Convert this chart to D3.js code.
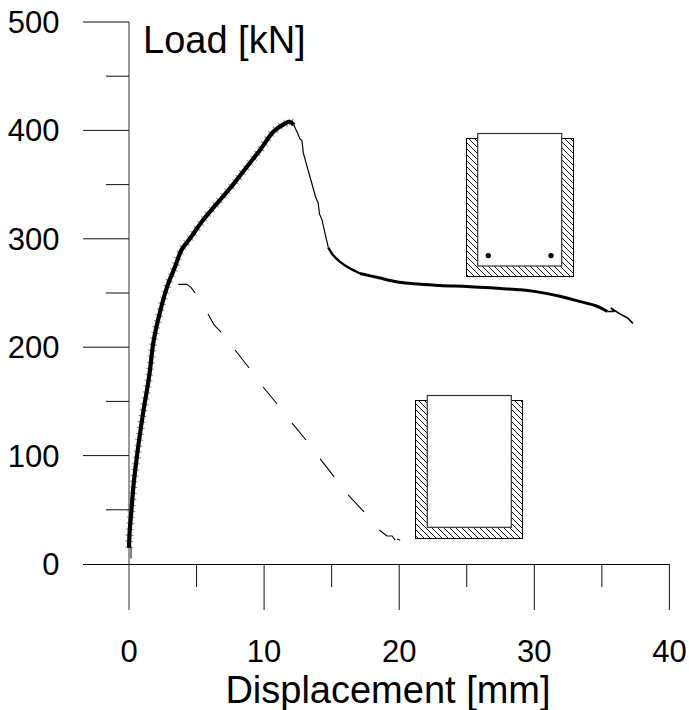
<!DOCTYPE html>
<html><head><meta charset="utf-8"><script src="https://cdn.jsdelivr.net/npm/d3@7"></script>
<style>html,body{margin:0;background:#fff}svg{display:block}text{font-family:"Liberation Sans",Arial,sans-serif;fill:#000}</style></head>
<body><svg id="c" width="689" height="710"></svg>
<script>
const xTicks=[0,10,20,30,40];
const xMinor=[5,15,25,35];
const yTicks=[0,100,200,300,400,500];
const yMinor=[50,150,250,350,450];
const riseDisp=[0,0.05,0.15,0.3,0.37,0.7,1.05,1.48,1.8,2.15,2.8,3.4,3.9,4.5,5.4,6.4,7.7,8.2,9.7,10.7,11.5,11.9,12.2];
const riseLoad=[15,30,45,68,77,110,140,172,204,225,255,274,290,300,316,331,350,358,382,399,406,408,405];
const dropDisp=[12.2,12.5,12.65,12.8,12.9,13.0,13.15,13.4,13.6,13.8,14,14.1,14.3,14.4,14.55,14.75];
const dropLoad=[405,397,392,391,379,375,368,357,348,339,333,323,317,311,303,292];
const tailDisp=[14.75,15.1,15.6,16.3,17.1,18.5,20,23,25,27,29,30,31.9,33.4,34.6,35.4];
const tailLoad=[292,285,279,273,268,264,260,257,256,254.5,253,251.5,247,242,238,233];
const endDisp=[35.4,35.9,35.7,36.3,36.9,37.3];
const endLoad=[233,233,236,231,227,222];
const footDisp=[0.15,0.15];
const footLoad=[16,5];
const weakDisp=[3.65,4.3,4.6,4.9,null,5.85,6.3,6.81,null,7.85,8.89,null,9.93,10.96,null,12.07,13.1,null,14.15,15.19,null,16.22,17.4,null,18.52,19.1,19.48,19.7,null,19.85,20.07];
const weakLoad=[258,258,255,250,null,230.6,220.5,214,null,197.4,180.8,null,163.3,147.6,null,130,114.4,null,96.9,80.3,null,63.7,48,null,31.4,25.8,25.8,22,null,23,22];
const svg=d3.select('#c');
const x=d3.scaleLinear().domain([0,40]).range([129,669.4]);
const y=d3.scaleLinear().domain([0,500]).range([564,22]);
const defs=svg.append('defs');
const pat=defs.append('pattern').attr('id','hatch').attr('patternUnits','userSpaceOnUse').attr('width',6).attr('height',6);
pat.append('path').attr('d','M-1,-1L7,7M-1,5L1,7M5,-1L7,1').attr('stroke','#000').attr('stroke-width',0.9).attr('fill','none');
const ln=d3.line().defined(d=>d[0]!==null).x(d=>x(d[0])).y(d=>y(d[1]));
const sm=d3.line().curve(d3.curveCatmullRom).x(d=>x(d[0])).y(d=>y(d[1]));
const zip=(a,b)=>a.map((d,i)=>[d,b[i]]);
// axes
const ax=svg.append('g');
ax.append('line').attr('x1',83).attr('x2',x(40)).attr('y1',y(0)+.5).attr('y2',y(0)+.5).attr('stroke','#000').attr('stroke-width',1);
ax.append('line').attr('x1',x(0)).attr('x2',x(0)).attr('y1',y(500)).attr('y2',610).attr('stroke','#333').attr('stroke-width',1);
yTicks.filter(d=>d>0).forEach(d=>ax.append('line').attr('x1',83).attr('x2',x(0)).attr('y1',y(d)).attr('y2',y(d)).attr('stroke','#111').attr('stroke-width',1));
yMinor.forEach(d=>ax.append('line').attr('x1',106).attr('x2',x(0)).attr('y1',y(d)).attr('y2',y(d)).attr('stroke','#111').attr('stroke-width',1));
xTicks.filter(d=>d>0).forEach(d=>ax.append('line').attr('x1',x(d)).attr('x2',x(d)).attr('y1',y(0)).attr('y2',610).attr('stroke','#111').attr('stroke-width',1));
xMinor.forEach(d=>ax.append('line').attr('x1',x(d)).attr('x2',x(d)).attr('y1',y(0)).attr('y2',587).attr('stroke','#111').attr('stroke-width',1));
yTicks.forEach(d=>svg.append('text').attr('x',59.5).attr('y',y(d)+11).attr('text-anchor','end').attr('font-size',31).text(d));
xTicks.forEach(d=>svg.append('text').attr('x',x(d)).attr('y',661.5).attr('text-anchor','middle').attr('font-size',31).text(d));
svg.append('text').attr('x',143).attr('y',52.5).attr('font-size',38).text('Load [kN]');
svg.append('text').attr('x',388).attr('y',702.5).attr('text-anchor','middle').attr('font-size',38).text('Displacement [mm]');
// curves
const g=svg.append('g').attr('fill','none').attr('stroke','#000').attr('stroke-linejoin','round');
const rise=zip(riseDisp,riseLoad);
g.append('path').attr('d',sm(rise)).attr('stroke-width',8).attr('stroke-dasharray','1 5').attr('stroke','#888');
g.append('path').attr('d',sm(rise)).attr('stroke-width',4.2);
g.append('path').attr('d',ln(zip(dropDisp,dropLoad))).attr('stroke-width',1.2);
g.append('path').attr('d',sm(zip(tailDisp.slice(0,5),tailLoad.slice(0,5)))).attr('stroke-width',2.4);
g.append('path').attr('d',sm(zip(tailDisp.slice(4),tailLoad.slice(4)))).attr('stroke-width',3);
g.append('path').attr('d',ln(zip(endDisp,endLoad))).attr('stroke-width',1.6);
g.append('path').attr('d',ln(zip(footDisp,footLoad))).attr('stroke-width',1);
g.append('path').attr('d',ln(zip(weakDisp,weakLoad))).attr('stroke-width',1.1);
// insets
function inset(ox,oy,ow,oh,ix,iw,top,inner){
 svg.append('rect').attr('x',ox).attr('y',oy).attr('width',ow).attr('height',oh).attr('fill','url(#hatch)').attr('stroke','#000').attr('stroke-width',1);
 svg.append('rect').attr('x',ix).attr('y',top).attr('width',iw).attr('height',inner-top).attr('fill','#fff').attr('stroke','#333').attr('stroke-width',1.2);
}
inset(466.5,138.5,107,138,477.7,84,133.5,266);
inset(415.5,400.5,107,138,427.3,84,395.5,527.3);
[488.3,551].forEach(cx=>svg.append('circle').attr('cx',cx).attr('cy',255.6).attr('r',2.7).attr('fill','#000'));
</script></body></html>
